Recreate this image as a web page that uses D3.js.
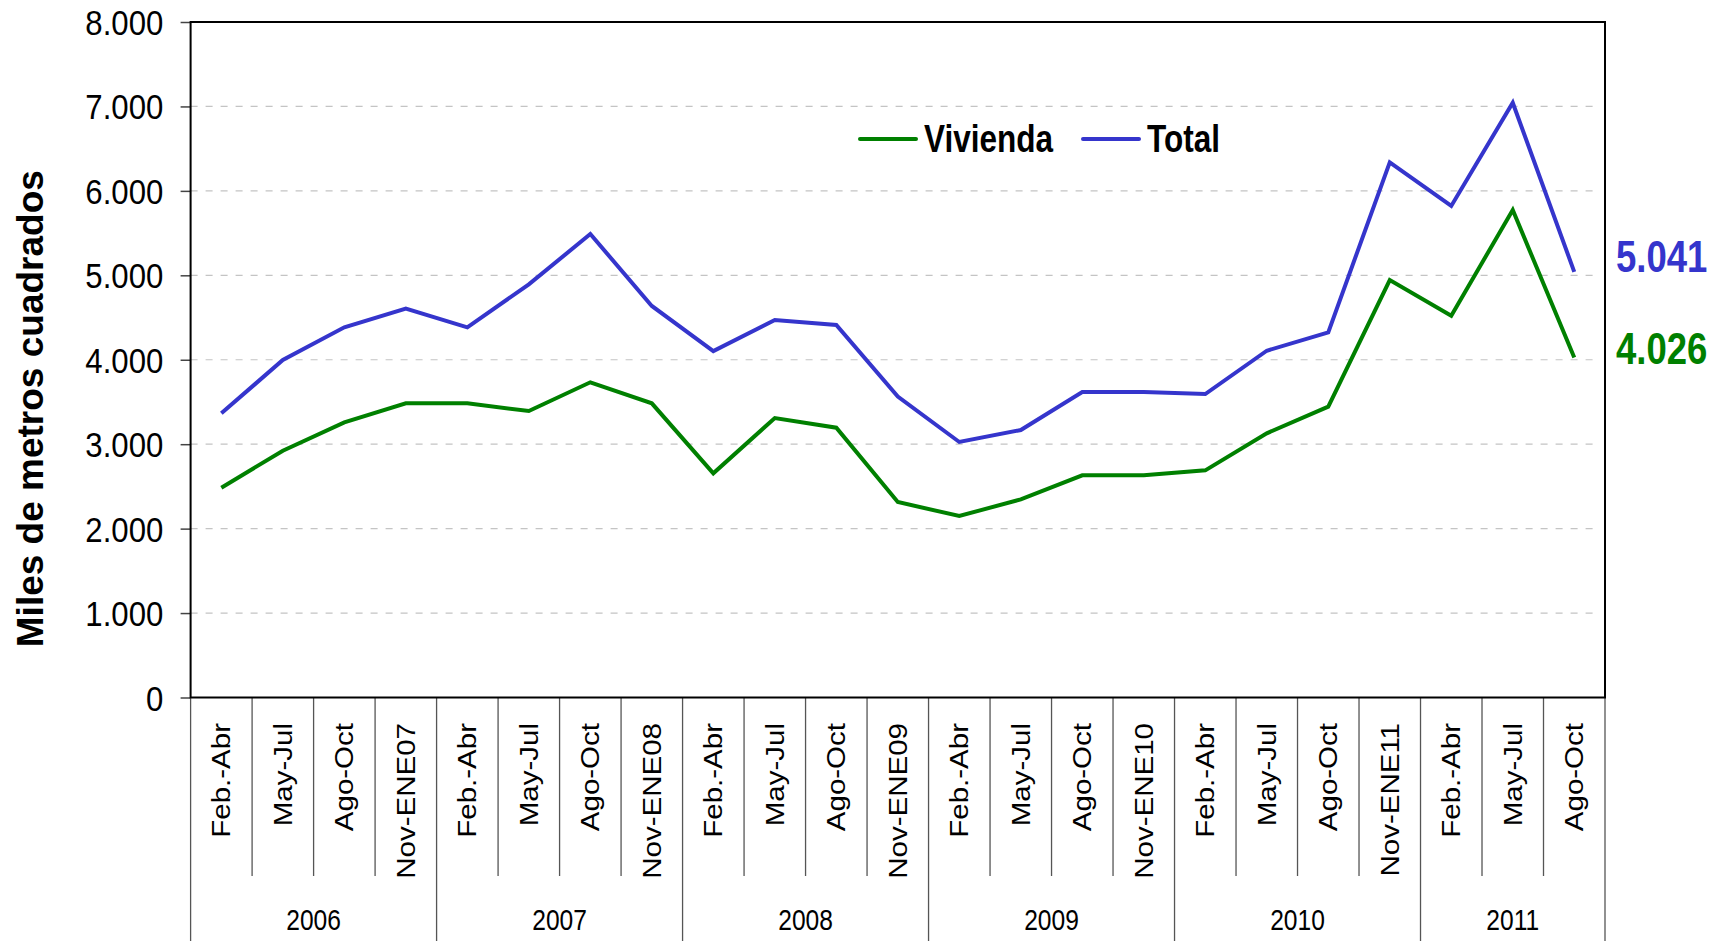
<!DOCTYPE html>
<html>
<head>
<meta charset="utf-8">
<script src="https://cdn.jsdelivr.net/npm/d3@7"></script>
<style>
  html, body { margin: 0; padding: 0; background: #fff; }
  svg { display: block; font-family: "Liberation Sans", Arial, sans-serif; }
</style>
</head>
<body>
<svg id="chart" width="1722" height="941"></svg>
<script>
// ---- Data ----
const categories = [
  "Feb.-Abr","May-Jul","Ago-Oct","Nov-ENE07",
  "Feb.-Abr","May-Jul","Ago-Oct","Nov-ENE08",
  "Feb.-Abr","May-Jul","Ago-Oct","Nov-ENE09",
  "Feb.-Abr","May-Jul","Ago-Oct","Nov-ENE10",
  "Feb.-Abr","May-Jul","Ago-Oct","Nov-ENE11",
  "Feb.-Abr","May-Jul","Ago-Oct"
];
const years = ["2006","2007","2008","2009","2010","2011"];
const yearCounts = [4,4,4,4,4,3];
const vivienda = [2485,2923,3259,3484,3484,3393,3733,3484,2655,3310,3195,2315,2149,2347,2631,2631,2690,3129,3444,4944,4522,5773,4026];
const total    = [3366,3997,4384,4605,4384,4893,5489,4637,4103,4471,4411,3563,3026,3168,3618,3618,3594,4107,4325,6338,5821,7044,5041];
const yTicks = [0,1000,2000,3000,4000,5000,6000,7000,8000];
const seriesNames = ["Vivienda","Total"];
const yTitle = "Miles de metros cuadrados";

// ---- Layout ----
const L = 190.6, R = 1605, T = 22, B = 697.5;
const colGreen = "#008000", colBlue = "#3535CC";
const svg = d3.select("#chart");
const loc = d3.formatLocale({decimal: ",", thousands: ".", grouping: [3], currency: ["", ""]});
const fmt = loc.format(",d");

const x = d3.scaleBand().domain(d3.range(categories.length)).range([L, R]).padding(0);
const y = d3.scaleLinear().domain([0, 8000]).range([B, T]);
const bw = x.bandwidth();
const cx = i => x(i) + bw / 2;

// gridlines
svg.append("g").selectAll("line")
  .data(yTicks.filter(v => v > 0 && v < 8000))
  .join("line")
  .attr("x1", L).attr("x2", R - 8)
  .attr("y1", d => y(d)).attr("y2", d => y(d))
  .attr("stroke", "#c4c4c4").attr("stroke-width", 1.2)
  .attr("stroke-dasharray", "7,8");

// y axis
const ya = svg.append("g").attr("transform", `translate(${L},0)`)
  .call(d3.axisLeft(y).tickValues(yTicks).tickSize(10).tickPadding(0).tickFormat(fmt));
ya.select(".domain").remove();
ya.selectAll(".tick line").attr("stroke", "#444").attr("stroke-width", 1.5);
ya.selectAll(".tick text")
  .attr("x", null).attr("dy", null)
  .attr("transform", "translate(-27.3,12.5) scale(0.89,1)")
  .attr("text-anchor", "end")
  .attr("fill", "#000")
  .style("font-size", "35px")
  .style("font-family", "'Liberation Sans', Arial, sans-serif");

// category separators (short) and year separators (long)
const yearStarts = [];
{ let s = 0; yearCounts.forEach(c => { yearStarts.push(s); s += c; }); yearStarts.push(s); }
const bounds = d3.range(categories.length + 1);
svg.append("g").selectAll("line")
  .data(bounds)
  .join("line")
  .attr("x1", i => i < categories.length ? x(i) : R)
  .attr("x2", i => i < categories.length ? x(i) : R)
  .attr("y1", B)
  .attr("y2", i => yearStarts.includes(i) ? 941 : 876)
  .attr("stroke", "#555").attr("stroke-width", 1.3);

// category labels
svg.append("g").selectAll("text")
  .data(categories)
  .join("text")
  .attr("transform", (d, i) => `translate(${cx(i) + 9},723) rotate(-90) scale(1.18,1)`)
  .attr("text-anchor", "end")
  .style("font-size", "25px")
  .attr("fill", "#000")
  .text(d => d);

// year labels
svg.append("g").selectAll("text")
  .data(years)
  .join("text")
  .attr("transform", (d, k) => {
    const a = x(yearStarts[k]);
    const b = yearStarts[k + 1] < categories.length ? x(yearStarts[k + 1]) : R;
    return `translate(${(a + b) / 2},930) scale(0.82,1)`;
  })
  .attr("text-anchor", "middle")
  .style("font-size", "30px")
  .attr("fill", "#000")
  .text(d => d);

// plot frame
svg.append("rect")
  .attr("x", L).attr("y", T).attr("width", R - L).attr("height", B - T)
  .attr("fill", "none").attr("stroke", "#000").attr("stroke-width", 2);

// lines
const line = d3.line().x((d, i) => cx(i)).y(d => y(d));
svg.append("path").datum(vivienda)
  .attr("d", line).attr("fill", "none")
  .attr("stroke", colGreen).attr("stroke-width", 4).attr("stroke-linejoin", "miter");
svg.append("path").datum(total)
  .attr("d", line).attr("fill", "none")
  .attr("stroke", colBlue).attr("stroke-width", 4).attr("stroke-linejoin", "miter");

// end value labels
const last = categories.length - 1;
svg.append("text")
  .attr("transform", `translate(1616,${y(total[last]) + 0}) scale(0.83,1)`)
  .style("font-size", "44px").style("font-weight", "bold")
  .attr("fill", colBlue).text(fmt(total[last]));
svg.append("text")
  .attr("transform", `translate(1616,${y(vivienda[last]) + 6}) scale(0.83,1)`)
  .style("font-size", "44px").style("font-weight", "bold")
  .attr("fill", colGreen).text(fmt(vivienda[last]));

// legend
const legend = [
  {name: seriesNames[0], color: colGreen, x0: 860},
  {name: seriesNames[1], color: colBlue, x0: 1083}
];
const lg = svg.append("g");
legend.forEach(it => {
  lg.append("line")
    .attr("x1", it.x0).attr("x2", it.x0 + 56)
    .attr("y1", 139).attr("y2", 139)
    .attr("stroke", it.color).attr("stroke-width", 4).attr("stroke-linecap", "round");
  lg.append("text")
    .attr("transform", `translate(${it.x0 + 64},151.7) scale(0.83,1)`)
    .style("font-size", "38px").style("font-weight", "bold")
    .attr("fill", "#000").text(it.name);
});

// y title
svg.append("text")
  .attr("transform", `translate(43.3,${(166.7 + 650.7) / 2}) rotate(-90)`)
  .attr("text-anchor", "middle")
  .style("font-size", "37px").style("font-weight", "bold")
  .attr("fill", "#000").text(yTitle);
</script>
</body>
</html>
